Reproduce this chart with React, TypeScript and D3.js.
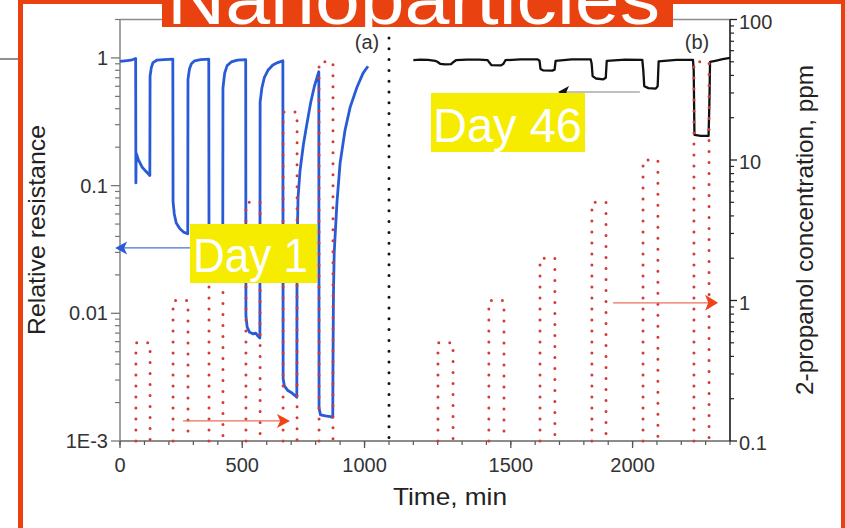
import React from "react";
import * as d3 from "d3";

const W = 845;
const H = 528;

// Panel (a) "Day 1": [time (min), relative resistance]
const day1Curve: [number, number][] = [
  [0, 0.94], [20, 0.95], [45, 0.96], [64, 0.99],
  [65, 0.105], [66, 0.18], [75, 0.16], [90, 0.14], [105, 0.13], [122, 0.12],
  [123, 0.72], [128, 0.84], [135, 0.92], [150, 0.96], [180, 0.97], [216, 0.98],
  [217, 0.075], [222, 0.06], [230, 0.051], [245, 0.046], [262, 0.043], [277, 0.042],
  [278, 0.68], [284, 0.82], [292, 0.9], [305, 0.95], [330, 0.97], [363, 0.98],
  [364, 0.035], [370, 0.026], [385, 0.021], [400, 0.019], [420, 0.018],
  [421, 0.58], [428, 0.76], [438, 0.87], [455, 0.93], [480, 0.96], [514, 0.97],
  [515, 0.0095], [520, 0.0078], [530, 0.0071], [545, 0.0069], [555, 0.007], [565, 0.0066], [572, 0.0064],
  [573, 0.45], [580, 0.58], [590, 0.7], [605, 0.8], [625, 0.88], [645, 0.92], [666, 0.95],
  [667, 0.0031], [672, 0.0027], [685, 0.0025], [700, 0.0024], [712, 0.0023], [723, 0.0022],
  [724, 0.03], [728, 0.08], [736, 0.13], [750, 0.21], [765, 0.31], [780, 0.45], [795, 0.6], [813, 0.78],
  [814, 0.0018], [820, 0.0016], [840, 0.00157], [860, 0.00155], [870, 0.00153],
  [871, 0.004], [873, 0.015], [876, 0.03], [887, 0.073], [900, 0.15], [920, 0.27], [941, 0.41],
  [969, 0.59], [994, 0.76], [1014, 0.86],
];

// Panel (b) "Day 46": [time (min), relative resistance]
const day46Curve: [number, number][] = [
  [1100, 0.96], [1130, 0.97], [1160, 0.965], [1190, 0.95], [1200, 0.93], [1210, 0.9], [1230, 0.89],
  [1255, 0.895], [1265, 0.93], [1275, 0.96], [1320, 0.97], [1370, 0.97], [1405, 0.96], [1412, 0.92],
  [1420, 0.88], [1460, 0.875], [1470, 0.9], [1478, 0.96], [1540, 0.975], [1610, 0.975], [1618, 0.95],
  [1622, 0.82], [1632, 0.8], [1670, 0.795], [1680, 0.81], [1684, 0.95], [1750, 0.975], [1828, 0.975],
  [1832, 0.9], [1836, 0.72], [1850, 0.69], [1880, 0.68], [1890, 0.7], [1894, 0.95], [1970, 0.97],
  [2040, 0.965], [2044, 0.8], [2048, 0.6], [2065, 0.58], [2095, 0.575], [2103, 0.6], [2107, 0.94],
  [2180, 0.965], [2248, 0.965], [2251, 0.8], [2254, 0.25], [2280, 0.245], [2312, 0.245], [2316, 0.5],
  [2318, 0.93], [2340, 0.95], [2370, 0.98], [2400, 1.0],
];

// 2-propanol pulses: [start min, end min, ppm]
const day1Pulses: [number, number, number][] = [
  [65, 123, 0.5], [217, 278, 1], [364, 421, 2], [515, 573, 5], [667, 724, 22], [814, 871, 50],
];
const day46Pulses: [number, number, number][] = [
  [1201, 1263, 0.5], [1410, 1472, 1], [1620, 1681, 2], [1833, 1891, 5], [2043, 2104, 10], [2252, 2314, 50],
];

// Tick labels
const xMajorA = [0, 500, 1000];
const xMajorB = [1500, 2000];
const leftTicks = [0.001, 0.01, 0.1, 1];
const leftTickLabels = ["1E-3", "0.01", "0.1", "1"];
const rightTicks = [0.1, 1, 10, 100];
const rightTickLabels = ["0.1", "1", "10", "100"];

const FONT = "'Liberation Sans', Arial, Helvetica, sans-serif";
const ORANGE = "#E9410F";
const YELLOW = "#F6EC00";

export default function App() {
  const L = 120, R = 730, T = 19.5, B = 441;
  const xA = d3.scaleLinear().domain([0, 1100]).range([L, 389]);
  const xB = d3.scaleLinear().domain([1000, 2400]).range([389, R]);
  const yL = d3.scaleLog().domain([1e-3, 2]).range([B, T]);
  const yR = d3.scaleLog().domain([0.1, 100]).range([B, T]);

  const lineA = d3.line<[number, number]>().x((d) => xA(d[0])).y((d) => yL(d[1]));
  const lineB = d3.line<[number, number]>().x((d) => xB(d[0])).y((d) => yL(d[1]));

  const pulsePath = (p: [number, number, number][], x: d3.ScaleLinear<number, number>) =>
    p.map(([s, e, c]) => `M${x(s)},${yR(0.1)}V${yR(c)}H${x(e)}V${yR(0.1)}`).join("");

  const minorA = d3.range(0, 1101, 100);
  const minorB = d3.range(1100, 2401, 100);
  const leftMinor: number[] = [];
  [0.001, 0.01, 0.1, 1].forEach((d) => {
    for (let k = 2; k <= 9; k++) if (d * k <= 2.0001) leftMinor.push(d * k);
  });
  const rightMinor: number[] = [];
  [0.1, 1, 10].forEach((d) => {
    for (let k = 2; k <= 9; k++) rightMinor.push(d * k);
  });

  // annotation arrows (in data coordinates)
  const blueY = yL(0.0325);
  const blueTip = xA(-20), blueTail = xA(287);
  const redAY = yR(0.139), redATail = xA(258), redATip = xA(695);
  const redBY = yR(0.963), redBTail = xB(1920), redBTip = xB(2351);
  const grayY = yL(0.54), grayTail = xB(2030), grayTip = xB(1694);

  const head = (tipX: number, y: number, dir: number, len: number, half: number) =>
    `${tipX},${y} ${tipX - dir * len},${y - half} ${tipX - dir * len * 0.75},${y} ${tipX - dir * len},${y + half}`;

  return (
    <div style={{ position: "fixed", left: 0, top: 0 }}>
      <svg width={W} height={H} viewBox={`0 0 ${W} ${H}`} style={{ display: "block", background: "#fff" }}>
        <defs>
          <clipPath id="titleClip">
            <rect x={162} y={0} width={511} height={27} />
          </clipPath>
        </defs>
        <rect x={0} y={0} width={W} height={H} fill="#fff" />
        {/* slide left line */}
        <line x1={0} x2={18} y1={59} y2={59} stroke="#222" strokeWidth={1} />

        {/* axes frame */}
        <line x1={L} x2={R} y1={T} y2={T} stroke="#8c8c8c" strokeWidth={1.3} />
        <line x1={L} x2={L} y1={T} y2={B} stroke="#8c8c8c" strokeWidth={1.6} />
        <line x1={L} x2={R} y1={B} y2={B} stroke="#666" strokeWidth={1.6} />
        <line x1={R} x2={R} y1={T} y2={B} stroke="#1a1a1a" strokeWidth={1.6} />

        {/* x ticks */}
        {minorA.map((t) => (
          <line key={"ma" + t} x1={xA(t)} x2={xA(t)} y1={B} y2={B + 4} stroke="#555" strokeWidth={1.2} />
        ))}
        {minorB.map((t) => (
          <line key={"mb" + t} x1={xB(t)} x2={xB(t)} y1={B} y2={B + 4} stroke="#555" strokeWidth={1.2} />
        ))}
        {xMajorA.map((t) => (
          <line key={"MA" + t} x1={xA(t)} x2={xA(t)} y1={B} y2={B + 7} stroke="#555" strokeWidth={1.3} />
        ))}
        {xMajorB.map((t) => (
          <line key={"MB" + t} x1={xB(t)} x2={xB(t)} y1={B} y2={B + 7} stroke="#555" strokeWidth={1.3} />
        ))}
        {xMajorA.map((t) => (
          <text key={"la" + t} x={xA(t)} y={465} textAnchor="middle" dominantBaseline="central" fontFamily={FONT} fontSize={20} fill="#333">
            {String(t)}
          </text>
        ))}
        {xMajorB.map((t) => (
          <text key={"lb" + t} x={xB(t)} y={465} textAnchor="middle" dominantBaseline="central" fontFamily={FONT} fontSize={20} fill="#333">
            {String(t)}
          </text>
        ))}

        {/* left ticks */}
        {leftMinor.map((v, i) => (
          <line key={"lm" + i} x1={L - 5} x2={L} y1={yL(v)} y2={yL(v)} stroke="#777" strokeWidth={1.2} />
        ))}
        {leftTicks.map((v, i) => (
          <g key={"lt" + i}>
            <line x1={L - 9} x2={L} y1={yL(v)} y2={yL(v)} stroke="#777" strokeWidth={1.3} />
            <text x={108} y={yL(v)} textAnchor="end" dominantBaseline="central" fontFamily={FONT} fontSize={20} fill="#333">
              {leftTickLabels[i]}
            </text>
          </g>
        ))}

        {/* right ticks */}
        {rightMinor.map((v, i) => (
          <line key={"rm" + i} x1={R} x2={R + 4} y1={yR(v)} y2={yR(v)} stroke="#222" strokeWidth={1.2} />
        ))}
        {rightTicks.map((v, i) => (
          <g key={"rt" + i}>
            <line x1={R} x2={R + 7} y1={yR(v)} y2={yR(v)} stroke="#222" strokeWidth={1.3} />
            <text x={739} y={yR(v) + 2} textAnchor="start" dominantBaseline="central" fontFamily={FONT} fontSize={20} fill="#333">
              {rightTickLabels[i]}
            </text>
          </g>
        ))}

        {/* axis titles */}
        <text x={450} y={496} textAnchor="middle" dominantBaseline="central" fontFamily={FONT} fontSize={24} fill="#222" textLength={114} lengthAdjust="spacingAndGlyphs">
          Time, min
        </text>
        <text transform="translate(36,230) rotate(-90)" textAnchor="middle" dominantBaseline="central" fontFamily={FONT} fontSize={24} fill="#222" textLength={210} lengthAdjust="spacingAndGlyphs">
          Relative resistance
        </text>
        <text transform="translate(804,230) rotate(-90)" textAnchor="middle" dominantBaseline="central" fontFamily={FONT} fontSize={24} fill="#222" textLength={330} lengthAdjust="spacingAndGlyphs">
          2-propanol concentration, ppm
        </text>

        {/* curves */}
        <path d={lineA(day1Curve) || ""} fill="none" stroke="#2a5bd7" strokeWidth={2.8} strokeLinejoin="round" />
        <path d={lineB(day46Curve) || ""} fill="none" stroke="#111" strokeWidth={2.3} strokeLinejoin="round" />

        {/* concentration pulses */}
        <path d={pulsePath(day1Pulses, xA)} fill="none" stroke="#d43a36" strokeWidth={3} strokeLinecap="round" strokeDasharray="0 11" />
        <path d={pulsePath(day46Pulses, xB)} fill="none" stroke="#d43a36" strokeWidth={3} strokeLinecap="round" strokeDasharray="0 11" />

        {/* panel separator */}
        <line x1={xA(1100)} x2={xA(1100)} y1={38} y2={B} stroke="#111" strokeWidth={3} strokeLinecap="round" strokeDasharray="0 10.8" />
        <text x={367} y={42} textAnchor="middle" dominantBaseline="central" fontFamily={FONT} fontSize={20} fill="#333">(a)</text>
        <text x={697} y={42} textAnchor="middle" dominantBaseline="central" fontFamily={FONT} fontSize={20} fill="#333">(b)</text>

        {/* arrows */}
        <line x1={blueTail} x2={blueTip + 8} y1={blueY} y2={blueY} stroke="#4a70d8" strokeWidth={1.2} />
        <polygon points={head(blueTip, blueY, -1, 12, 6.5)} fill="#2a5bd7" />
        <line x1={redATail} x2={redATip - 8} y1={redAY} y2={redAY} stroke="#e8705a" strokeWidth={1.3} />
        <polygon points={head(redATip, redAY, 1, 13, 7)} fill="#f04418" />
        <line x1={redBTail} x2={redBTip - 8} y1={redBY} y2={redBY} stroke="#e8705a" strokeWidth={1.3} />
        <polygon points={head(redBTip, redBY, 1, 13, 8)} fill="#f04418" />
        <line x1={grayTail} x2={grayTip + 6} y1={grayY} y2={grayY} stroke="#c0c0c0" strokeWidth={2} />
        <polygon points={head(grayTip, grayY, -1, 11, 6)} fill="#111" />

        {/* yellow labels */}
        <rect x={190} y={224} width={127} height={59} fill={YELLOW} />
        <text x={193} y={272} fontFamily={FONT} fontSize={48} fill="#fff" textLength={115} lengthAdjust="spacingAndGlyphs">Day 1</text>
        <rect x={431} y={93} width={154} height={59} fill={YELLOW} />
        <text x={433} y={142} fontFamily={FONT} fontSize={48} fill="#fff" textLength={149} lengthAdjust="spacingAndGlyphs">Day 46</text>

        {/* slide frame */}
        <rect x={18} y={0} width={5} height={H} fill={ORANGE} />
        <rect x={18} y={0} width={W - 18} height={4} fill={ORANGE} />
        <rect x={841} y={0} width={4} height={H} fill={ORANGE} />
        <rect x={162} y={0} width={511} height={27} fill={ORANGE} />
        <g clipPath="url(#titleClip)">
          <text x={167} y={24} fontFamily={FONT} fontSize={72} fill="#fff" textLength={493} lengthAdjust="spacingAndGlyphs">Nanoparticles</text>
        </g>
      </svg>
    </div>
  );
}
